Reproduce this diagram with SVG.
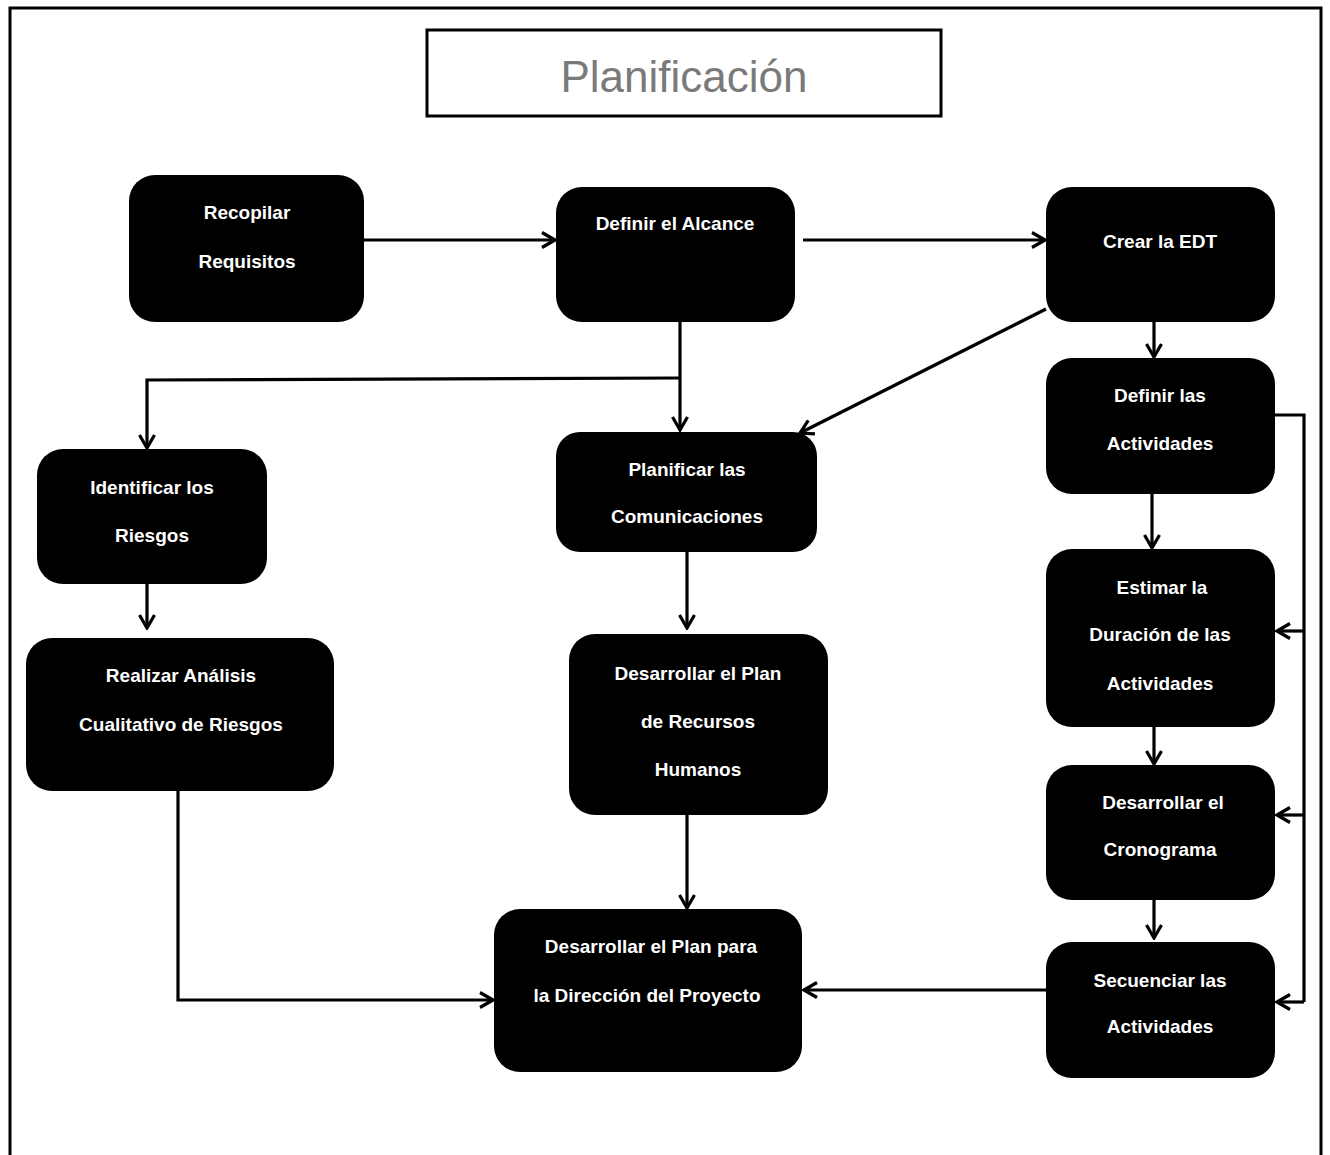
<svg xmlns="http://www.w3.org/2000/svg" width="1330" height="1155" viewBox="0 0 1330 1155">
<defs>
<marker id="arr" viewBox="0 0 18 18" refX="16" refY="9" markerWidth="18" markerHeight="18" markerUnits="userSpaceOnUse" orient="auto">
<path d="M3,1.5 L16,9 L3,16.5" fill="none" stroke="#000" stroke-width="3.2"/>
</marker>
<style>
.n{fill:#000}
.t{fill:#fff;font-family:"Liberation Sans",Arial,sans-serif;font-weight:bold;font-size:19px;text-anchor:middle}
.c{fill:none;stroke:#000;stroke-width:3.2}
.a{marker-end:url(#arr)}
</style>
</defs>
<rect width="1330" height="1155" fill="#fff"/>
<path d="M10,1155 L10,8 L1321,8 L1321,1155" fill="none" stroke="#000" stroke-width="3"/>
<g id="title">
<rect x="427" y="30" width="514" height="86" fill="#fff" stroke="#000" stroke-width="3"/>
<text x="684" y="92" font-family="Liberation Sans,Arial,sans-serif" font-size="44" fill="#7a7a7a" text-anchor="middle">Planificación</text>
</g>
<g id="connectors">
<path class="c a" d="M364,240 L555,240"/>
<path class="c a" d="M803,240 L1045,240"/>
<path class="c a" d="M680,322 L680,430"/>
<path class="c a" d="M680,378 L147,380 L147,448"/>
<path class="c a" d="M1046,309 L800,433"/>
<path class="c a" d="M1154,322 L1154,357"/>
<path class="c a" d="M1152,494 L1152,548"/>
<path class="c" d="M1275,415 L1304,415 L1304,1002"/>
<path class="c a" d="M1304,631 L1277,631"/>
<path class="c a" d="M1304,815 L1277,815"/>
<path class="c a" d="M1304,1002 L1277,1002"/>
<path class="c a" d="M1154,727 L1154,764"/>
<path class="c a" d="M1154,900 L1154,938"/>
<path class="c a" d="M1046,990 L804,990"/>
<path class="c a" d="M147,584 L147,628"/>
<path class="c a" d="M178,791 L178,1000 L493,1000"/>
<path class="c a" d="M687,552 L687,628"/>
<path class="c a" d="M687,815 L687,908"/>
</g>
<g id="n1"><rect class="n" x="129" y="175" width="235" height="147" rx="26"/><text class="t" x="247" y="219">Recopilar</text><text class="t" x="247" y="268">Requisitos</text></g>
<g id="n2"><rect class="n" x="556" y="187" width="239" height="135" rx="26"/><text class="t" x="675" y="230">Definir el Alcance</text></g>
<g id="n3"><rect class="n" x="1046" y="187" width="229" height="135" rx="26"/><text class="t" x="1160" y="248">Crear la EDT</text></g>
<g id="n4"><rect class="n" x="1046" y="358" width="229" height="136" rx="26"/><text class="t" x="1160" y="402">Definir las</text><text class="t" x="1160" y="450">Actividades</text></g>
<g id="n5"><rect class="n" x="1046" y="549" width="229" height="178" rx="26"/><text class="t" x="1162" y="594">Estimar la</text><text class="t" x="1160" y="641">Duración de las</text><text class="t" x="1160" y="690">Actividades</text></g>
<g id="n6"><rect class="n" x="1046" y="765" width="229" height="135" rx="26"/><text class="t" x="1163" y="809">Desarrollar el</text><text class="t" x="1160" y="856">Cronograma</text></g>
<g id="n7"><rect class="n" x="1046" y="942" width="229" height="136" rx="26"/><text class="t" x="1160" y="987">Secuenciar las</text><text class="t" x="1160" y="1033">Actividades</text></g>
<g id="n8"><rect class="n" x="37" y="449" width="230" height="135" rx="26"/><text class="t" x="152" y="494">Identificar los</text><text class="t" x="152" y="542">Riesgos</text></g>
<g id="n9"><rect class="n" x="26" y="638" width="308" height="153" rx="26"/><text class="t" x="181" y="682">Realizar Análisis</text><text class="t" x="181" y="731">Cualitativo de Riesgos</text></g>
<g id="n10"><rect class="n" x="556" y="432" width="261" height="120" rx="24"/><text class="t" x="687" y="476">Planificar las</text><text class="t" x="687" y="523">Comunicaciones</text></g>
<g id="n11"><rect class="n" x="569" y="634" width="259" height="181" rx="26"/><text class="t" x="698" y="680">Desarrollar el Plan</text><text class="t" x="698" y="728">de Recursos</text><text class="t" x="698" y="776">Humanos</text></g>
<g id="n12"><rect class="n" x="494" y="909" width="308" height="163" rx="26"/><text class="t" x="651" y="953">Desarrollar el Plan para</text><text class="t" x="647" y="1002">la Dirección del Proyecto</text></g>
</svg>
